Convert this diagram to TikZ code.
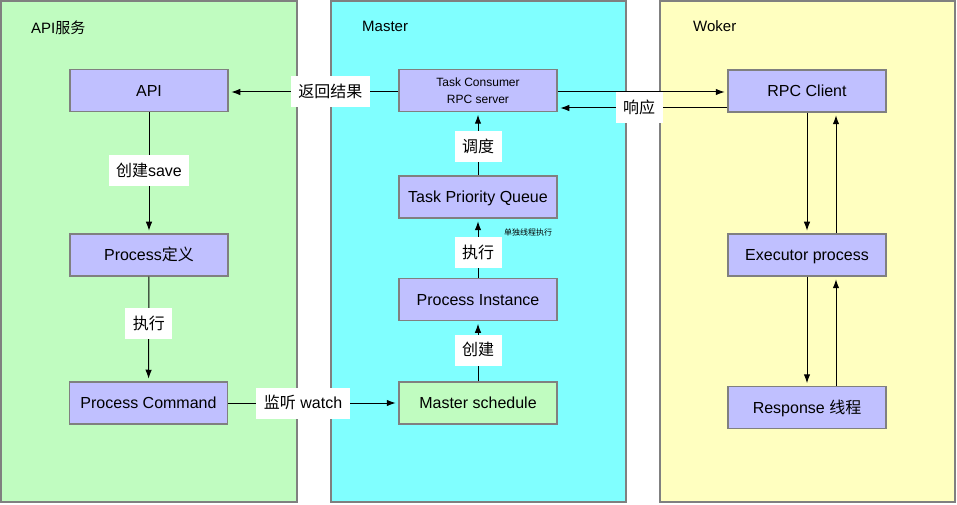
\documentclass[tikz,border=0pt]{standalone}
\usepackage{fontspec}
\setmainfont{Liberation Sans}
\newfontfamily\cjk{Noto Sans CJK SC}
\usetikzlibrary{arrows.meta}
\definecolor{pgreen}{RGB}{192,252,192}
\definecolor{pcyan}{RGB}{128,255,255}
\definecolor{pyellow}{RGB}{255,255,192}
\definecolor{pbox}{RGB}{192,192,255}
\definecolor{bgray}{RGB}{128,128,128}
\tikzset{
  panel/.style={draw=bgray, line width=1.5bp},
  box/.style={draw=bgray, line width=1.5bp, fill=pbox, minimum width=158bp, minimum height=42bp, inner sep=0pt, text height=12.5bp, text depth=1bp, font=\fontsize{16bp}{19bp}\selectfont},
  lbl/.style={fill=white, inner xsep=7.5bp, inner ysep=0pt, minimum height=31bp, text height=12.5bp, text depth=1bp, font=\fontsize{16bp}{19bp}\selectfont},
  arr/.style={-{Latex[length=9bp,width=6.5bp]}, line width=1bp, shorten >=2.5bp},
  ttl/.style={anchor=west, inner sep=0pt, font=\fontsize{15bp}{18bp}\selectfont}
}
\begin{document}
\begin{tikzpicture}[x=1bp,y=-1bp]
\useasboundingbox (0,0) rectangle (957,505);
% panels
\draw[panel, fill=pgreen] (1,1) rectangle (297,502);
\draw[panel, fill=pcyan] (331,1) rectangle (626,502);
\draw[panel, fill=pyellow] (660,1) rectangle (955,502);
\node[ttl] (t1) at (31,28) {API{\cjk 服务}};
\node[ttl] (t2) at (362,26) {Master};
\node[ttl] (t3) at (693,26) {Woker};
% boxes
\node[box] (api) at (149,90.5) {API};
\node[box] (pdef) at (149,255) {Process{\cjk 定义}};
\node[box] (pcmd) at (148.5,403) {Process Command};
\node[box, fill=pgreen] (ms) at (478,403) {Master schedule};
\node[box] (pi) at (478,299.5) {Process Instance};
\node[box] (tpq) at (478,197) {Task Priority Queue};
\node[box, align=center, text height=, text depth=, font=\fontsize{12bp}{16.5bp}\selectfont] (tc) at (478,90.5) {Task Consumer\\RPC server};
\node[box] (rpc) at (807,91) {RPC Client};
\node[box] (exe) at (807,255) {Executor process};
\node[box] (resp) at (807,407.5) {Response {\cjk 线程}};
\node[inner sep=0pt, font=\fontsize{8bp}{10bp}\selectfont] (note) at (528,232) {\cjk 单独线程执行};
% connectors
\draw[arr] ([yshift=-1.5bp]tc.west) -- ([yshift=-1.5bp]api.east) node[lbl, pos=0.4] {\cjk 返回结果};
\draw[arr] ([yshift=-1.5bp]tc.east) -- ([yshift=-1bp]rpc.west);
\draw[arr] ([yshift=-17bp]rpc.west) -- ([yshift=-17.5bp]tc.east) node[lbl, pos=0.52] {\cjk 响应};
\draw[arr] (api) -- (pdef) node[lbl, pos=0.48] {{\cjk 创建}save};
\draw[arr] (pdef) -- (pcmd) node[lbl, pos=0.45] {\cjk 执行};
\draw[arr] (pcmd) -- (ms) node[lbl, pos=0.44] {{\cjk 监听} watch};
\draw[arr] (ms) -- (pi) node[lbl, pos=0.52] {\cjk 创建};
\draw[arr] (pi) -- (tpq) node[lbl, pos=0.43] {\cjk 执行};
\draw[arr] (tpq) -- (tc) node[lbl, pos=0.46] {\cjk 调度};
\draw[arr] (rpc) -- (exe);
\draw[arr] ([xshift=29bp]exe.north) -- ([xshift=29bp]rpc.south);
\draw[arr] (exe) -- (resp);
\draw[arr] ([xshift=29bp]resp.north) -- ([xshift=29bp]exe.south);
\end{tikzpicture}
\end{document}
